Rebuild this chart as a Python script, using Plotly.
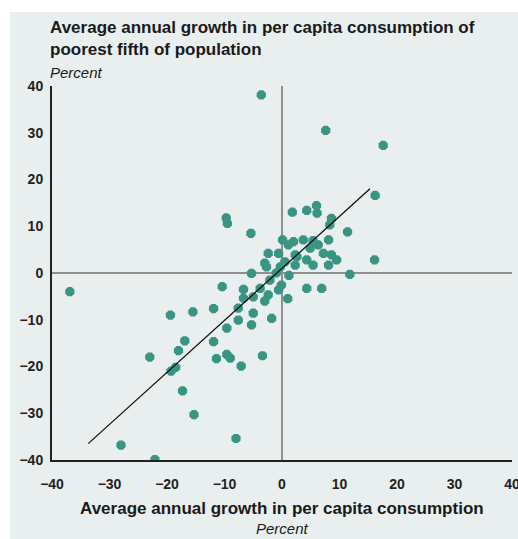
import plotly.graph_objects as go

# Average annual growth in per capita consumption (%), by country
growth_all = [
    -3.6, 7.6, 17.6, 16.2, 16.1, 11.4, 11.8, -36.9, -28.0, -22.1, -8.0, -15.3,
    -17.3, -19.3, -18.5, -23.0, -18.0, -16.9, -11.9, -11.4, -9.6, -9.0, -7.1,
    -3.4, -19.4, -15.5, -11.9, -10.4, -9.6, -7.6, -7.6, -5.0, -5.3, -1.8,
    -9.7, -9.5, -5.4,
    -5.3, -6.7, -6.7, -5.0, -3.8, -3.0, -2.4, -2.1, -0.6, -0.1, 1.0,
    -2.7, -3.0, -2.4, -0.6, -0.3, 0.5, 0.1, 1.1, 2.3, 2.0, 2.6, 2.3, 3.7,
    4.3, 4.9, 5.4, 6.3, 7.2, 8.1, 8.6, 9.5, 8.1, 5.4,
    1.8, 4.3, 6.0, 6.1, 8.6, 8.3, 4.3, 6.9, 1.2, -1.0,
]
# Average annual growth in per capita consumption of the poorest fifth (%)
growth_poor = [
    38.1, 30.5, 27.3, 16.6, 2.8, 8.8, -0.3, -4.0, -36.8, -39.9, -35.4, -30.3,
    -25.2, -21.0, -20.2, -18.0, -16.6, -14.5, -14.7, -18.3, -17.4, -18.2, -19.9,
    -17.7, -9.0, -8.3, -7.6, -2.9, -11.8, -10.1, -7.5, -8.6, -11.1, -9.7,
    11.8, 10.6, 8.5,
    -0.1, -3.5, -5.4, -5.1, -3.3, -6.0, -4.7, -1.5, -3.6, -2.6, -5.5,
    1.3, 2.1, 4.2, 4.2, 1.3, 2.4, 7.1, 6.0, 3.9, 6.7, 3.5, 1.7, 7.1,
    2.8, 5.3, 1.7, 6.0, 4.2, 7.1, 3.9, 2.8, 1.7, 6.9,
    13.0, 13.4, 14.4, 12.8, 11.7, 10.3, -3.3, -3.3, -0.5, 0.0,
]
# Fitted regression line end points
fit_x = [-33.7, 15.3]
fit_y = [-36.5, 18.0]

axis_ticks = [-40, -30, -20, -10, 0, 10, 20, 30, 40]
tick_text = ["\u2212" + str(-t) if t < 0 else str(t) for t in axis_ticks]

panel = "#e9eeee"
teal = "#3a9484"
font_family = "Liberation Sans, Arial, sans-serif"
ink = "#1a1a1a"

fig = go.Figure()

# zero reference lines
fig.add_trace(go.Scatter(x=[0, 0], y=[-40, 40], mode="lines",
                         line=dict(color="#8f8f8f", width=2),
                         hoverinfo="skip", showlegend=False))
fig.add_trace(go.Scatter(x=[-40, 40], y=[0, 0], mode="lines",
                         line=dict(color="#8f8f8f", width=2),
                         hoverinfo="skip", showlegend=False))

fig.add_trace(go.Scatter(
    x=growth_all, y=growth_poor, mode="markers",
    marker=dict(symbol="octagon", size=10, color=teal, line=dict(width=0)),
    showlegend=False,
))

fig.add_trace(go.Scatter(
    x=fit_x, y=fit_y, mode="lines",
    line=dict(color="#111111", width=1.3),
    showlegend=False,
))

L, R, T, B = 52, 6, 86, 79
W, H = 518, 539
pw, ph = W - L - R, H - T - B

tick_font = dict(size=14, family=font_family, color="#222222", weight="bold")

fig.update_layout(
    width=W, height=H,
    margin=dict(l=L, r=R, t=T, b=B, autoexpand=False),
    paper_bgcolor=panel,
    plot_bgcolor=panel,
    font=dict(family=font_family, color="#222222"),
    showlegend=False,
    xaxis=dict(
        range=[-40, 40], tickvals=axis_ticks, ticktext=tick_text,
        showgrid=False, zeroline=False, ticks="",
        showline=True, linecolor="#222222", linewidth=2,
        tickfont=tick_font, ticklabeloverflow="allow", automargin=False,
        ticklabelstandoff=10,
    ),
    yaxis=dict(
        range=[-40, 40], tickvals=axis_ticks, ticktext=tick_text,
        showgrid=False, zeroline=False, ticks="",
        showline=True, linecolor="#222222", linewidth=2,
        tickfont=tick_font, ticklabeloverflow="allow", automargin=False,
        ticklabelstandoff=4,
    ),
    shapes=[
        # white strips framing the grey panel
        dict(type="rect", xref="paper", yref="paper", layer="below",
             x0=-L / pw, x1=(W - L) / pw, y0=(ph + T - 12) / ph, y1=(ph + T) / ph,
             fillcolor="white", line=dict(width=0)),
        dict(type="rect", xref="paper", yref="paper", layer="below",
             x0=-L / pw, x1=(10 - L) / pw, y0=-B / ph, y1=(ph + T) / ph,
             fillcolor="white", line=dict(width=0)),
    ],
    annotations=[
        dict(text="<b>Average annual growth in per capita consumption of<br>poorest fifth of population</b>",
             xref="paper", yref="paper", x=(48 - L) / pw, y=(ph + T - 16) / ph,
             xanchor="left", yanchor="top", align="left", showarrow=False,
             font=dict(size=17, family=font_family, color=ink)),
        dict(text="<i>Percent</i>",
             xref="paper", yref="paper", x=(48 - L) / pw, y=(ph + T - 62) / ph,
             xanchor="left", yanchor="top", align="left", showarrow=False,
             font=dict(size=15, family=font_family, color=ink)),
        dict(text="<b>Average annual growth in per capita consumption</b>",
             xref="paper", yref="paper", x=(282 - L) / pw, y=-(497 - T - ph) / ph,
             xanchor="center", yanchor="top", showarrow=False,
             font=dict(size=17, family=font_family, color=ink)),
        dict(text="<i>Percent</i>",
             xref="paper", yref="paper", x=(282 - L) / pw, y=-(518 - T - ph) / ph,
             xanchor="center", yanchor="top", showarrow=False,
             font=dict(size=15, family=font_family, color=ink)),
    ],
)

fig.write_html("out.html")
